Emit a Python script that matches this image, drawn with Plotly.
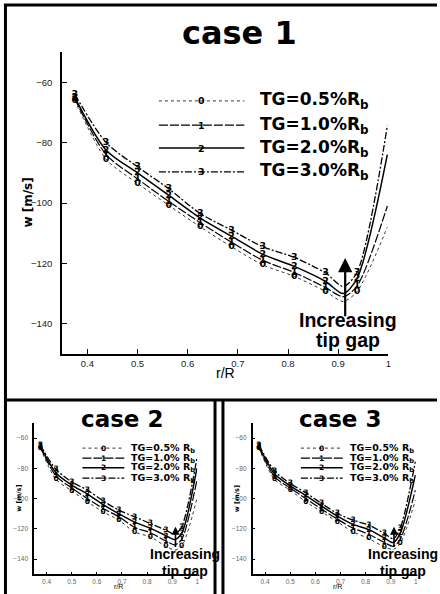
import plotly.graph_objects as go

W, H = 440, 594

# radial stations (r/R) shared by all three cases
r_pts = [0.375, 0.4375, 0.5, 0.5625, 0.625, 0.6875, 0.75, 0.8125, 0.875, 0.91, 0.9375, 0.998]
# stations that carry a symbol (the others only shape the line)
symbol_at = [True, True, True, True, True, True, True, True, True, False, True, False]

gap_labels = ["0.5", "1.0", "2.0", "3.0"]
symbols = ["0", "1", "2", "3"]

# axial velocity w [m/s] for TG = 0.5, 1.0, 2.0, 3.0 %Rb
case1 = [
    [-66.0, -85.5, -93.5, -100.8, -107.9, -114.5, -120.5, -124.3, -129.3, -132.6, -129.3, -108.0],
    [-65.5, -84.0, -92.0, -99.5, -106.5, -113.0, -119.0, -123.0, -128.0, -131.0, -127.5, -101.0],
    [-65.0, -82.5, -90.0, -97.5, -105.0, -111.0, -117.0, -121.0, -126.0, -130.0, -125.0, -84.0],
    [-64.0, -80.0, -88.0, -95.3, -103.5, -109.0, -114.5, -118.0, -123.2, -127.6, -123.0, -74.4],
]
case2 = [
    [-66.8, -87.3, -94.8, -102.1, -108.7, -114.2, -122.0, -125.3, -131.5, -134.0, -131.5, -100.0],
    [-66.0, -85.0, -93.0, -100.0, -106.5, -112.0, -119.0, -122.5, -128.0, -130.5, -127.0, -88.0],
    [-65.5, -83.0, -91.0, -97.0, -104.0, -110.0, -115.5, -119.5, -124.5, -127.0, -123.0, -80.0],
    [-64.6, -80.7, -88.9, -94.4, -101.5, -107.6, -112.0, -116.4, -120.9, -123.5, -118.7, -73.4],
]
case3 = [
    [-66.6, -87.3, -94.4, -102.1, -108.7, -115.3, -122.0, -126.4, -131.9, -133.5, -129.7, -101.0],
    [-66.0, -85.5, -93.0, -100.0, -107.0, -113.5, -119.5, -123.5, -129.0, -131.5, -127.0, -94.4],
    [-65.2, -83.5, -91.5, -98.0, -105.0, -111.5, -117.0, -120.5, -126.0, -129.0, -123.0, -84.4],
    [-64.6, -81.6, -90.0, -96.2, -103.2, -109.8, -114.2, -117.5, -123.0, -126.5, -119.7, -75.6],
]

x_ticks = [0.4, 0.5, 0.6, 0.7, 0.8, 0.9, 1.0]
x_tick_text = ["0.4", "0.5", "0.6", "0.7", "0.8", "0.9", "1"]
y_ticks = [-140, -120, -100, -80, -60]

line_styles = [
    dict(dash="dot", width=1.0, color="#333"),
    dict(dash="9px,2px", width=1.2, color="black"),
    dict(dash="solid", width=1.5, color="black"),
    dict(dash="7px,2px,2px,2px", width=1.3, color="black"),
]

TITLE_FONT = "DejaVu Sans"
ARIAL = "Liberation Sans, Arial"


def px_x(px):
    return px / W


def px_y(py):
    return 1 - py / H


def note(text, x, y, font, xref="paper", yref="paper", **kw):
    d = dict(text=text, xref=xref, yref=yref, x=x, y=y, showarrow=False,
             xanchor="center", yanchor="middle", font=font)
    d.update(kw)
    return d


panels = [
    dict(name="case 1", data=case1, xd=[62.7, 391.0], yd=[52.0, 354.0], big=True),
    dict(name="case 2", data=case2, xd=[34.3, 198.7], yd=[423.0, 574.3], big=False),
    dict(name="case 3", data=case3, xd=[254.3, 418.7], yd=[423.0, 574.3], big=False),
]

fig = go.Figure()
annotations = []
shapes = []
layout_axes = {}

for i, p in enumerate(panels):
    k = "" if i == 0 else str(i + 1)
    xa, ya = "x" + k, "y" + k
    big = p["big"]
    sym_size = 9.5 if big else 7.5
    sym_x = [r for r, s in zip(r_pts, symbol_at) if s]
    for j, vals in enumerate(p["data"]):
        fig.add_trace(go.Scatter(
            x=r_pts, y=vals, xaxis=xa, yaxis=ya, mode="lines",
            line=dict(shape="spline", smoothing=0.8, **line_styles[j]),
            showlegend=False, cliponaxis=False, hoverinfo="skip",
        ))
        fig.add_trace(go.Scatter(
            x=sym_x, y=[v for v, s in zip(vals, symbol_at) if s], xaxis=xa, yaxis=ya,
            mode="text", text=[symbols[j]] * len(sym_x), textposition="middle center",
            textfont=dict(family=TITLE_FONT, size=sym_size, color="black", weight="bold"),
            showlegend=False, cliponaxis=False,
        ))

    tick_font = dict(family=ARIAL, size=9.5 if big else 6.5, color="#222" if big else "#666")
    ax_common = dict(showgrid=False, zeroline=False, showline=True, linecolor="black",
                     linewidth=2 if big else 1.5, ticks="inside", ticklen=5 if big else 3,
                     tickcolor="black", tickwidth=1, tickfont=tick_font, mirror=False)
    layout_axes["xaxis" + k] = dict(
        domain=[px_x(p["xd"][0]), px_x(p["xd"][1])], anchor=ya, range=[0.35, 1.0],
        tickvals=x_ticks, ticktext=x_tick_text, ticklabelstandoff=0, **ax_common)
    layout_axes["yaxis" + k] = dict(
        domain=[px_y(p["yd"][1]), px_y(p["yd"][0])], anchor=xa, range=[-150, -50],
        tickvals=y_ticks, ticklabelstandoff=6 if big else 3, **ax_common)

    xc = (p["xd"][0] + p["xd"][1]) / 2
    yc = (p["yd"][0] + p["yd"][1]) / 2
    # panel title
    if big:
        annotations.append(note("<b>case 1</b>", px_x(241), px_y(33),
                                dict(family=TITLE_FONT, size=32, color="black")))
    else:
        annotations.append(note("<b>%s</b>" % p["name"], px_x(xc + 6), px_y(419),
                                dict(family=TITLE_FONT, size=23, color="black")))

    # axis titles
    annotations.append(note("<b>w [m/s]</b>", px_x(p["xd"][0] - (35 if big else 16)), px_y(yc),
                            dict(family=TITLE_FONT, size=12 if big else 6.5, color="black"),
                            textangle=-90))
    annotations.append(note("r/R", px_x(xc + (0 if big else 3)), px_y(p["yd"][1] + (19 if big else 12)),
                            dict(family=ARIAL, size=14 if big else 7, color="black")))

    # in-plot key
    if big:
        rows = [-66.2, -74.2, -81.8, -89.7]
        lx0, lx1, lsym, ltx = 0.5427, 0.713, 0.628, 0.741
        key_font, sub_sp = 17, ""
    else:
        rows = [-66.6, -73.2, -79.6, -86.4]
        lx0, lx1, lsym, ltx = 0.5425, 0.709, 0.626, 0.728
        key_font, sub_sp = 9.5, " "
    for j in range(4):
        st = line_styles[j]
        shapes.append(dict(type="line", xref=xa, yref=ya, x0=lx0, x1=lx1, y0=rows[j], y1=rows[j],
                           line=dict(color=st["color"], width=st["width"], dash=st["dash"])))
        annotations.append(note("<b>%s</b>" % symbols[j], lsym, rows[j],
                                dict(family=TITLE_FONT, size=sym_size, color="black"),
                                xref=xa, yref=ya))
        annotations.append(note("<b>TG=%s%%%sR<sub>b</sub></b>" % (gap_labels[j], sub_sp), ltx, rows[j],
                                dict(family=TITLE_FONT, size=key_font, color="black"),
                                xref=xa, yref=ya, xanchor="left"))

    # tip-gap arrow and note
    if big:
        arr = dict(x=0.914, y=-118.2, ay=-138.0, size=1.3, width=2.2)
        tg = dict(x=0.919, y1=-138.9, y2=-145.2, size=19.5)
    else:
        arr = dict(x=0.913, y=-118.5, ay=-133.0, size=1.0, width=1.6)
        tg = dict(x=0.949, y1=-136.5, y2=-148.0, size=14)
    annotations.append(dict(text="", xref=xa, yref=ya, axref=xa, ayref=ya,
                            x=arr["x"], y=arr["y"], ax=arr["x"], ay=arr["ay"],
                            showarrow=True, arrowhead=2, arrowsize=arr["size"],
                            arrowwidth=arr["width"], arrowcolor="black"))
    annotations.append(note("<b>Increasing</b>", tg["x"], tg["y1"],
                            dict(family=ARIAL, size=tg["size"], color="black"), xref=xa, yref=ya))
    annotations.append(note("<b>tip gap</b>", tg["x"], tg["y2"],
                            dict(family=ARIAL, size=tg["size"], color="black"), xref=xa, yref=ya))

# panel frames
frame = dict(color="black", width=3)
for x0, y0, x1, y1 in [
    (4, 5, 440, 5),            # top edge
    (5.5, 4, 5.5, 400),        # left edge, upper panel
    (4, 400, 440, 400),        # divider between rows
    (5.5, 400, 5.5, 594),      # left edge, case 2
    (216.5, 400, 216.5, 594),  # right edge, case 2
    (224.5, 400, 224.5, 594),  # left edge, case 3
]:
    shapes.append(dict(type="line", xref="paper", yref="paper",
                       x0=px_x(x0), x1=px_x(x1), y0=px_y(y0), y1=px_y(y1), line=frame))

fig.update_layout(
    width=W, height=H, autosize=False,
    margin=dict(l=0, r=0, t=0, b=0),
    paper_bgcolor="white", plot_bgcolor="white",
    annotations=annotations, shapes=shapes,
    **layout_axes,
)

fig.write_html("out.html")
